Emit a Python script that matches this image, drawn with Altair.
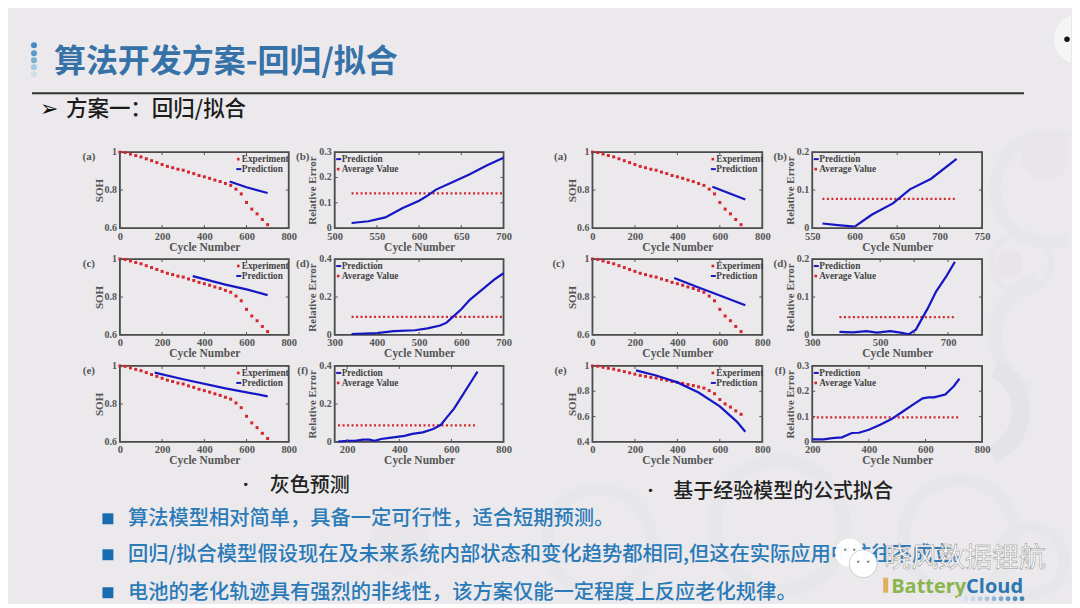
import altair as alt
import pandas as pd

BG = "#ebe9ec"
AX = "#555555"
SERIF = "Liberation Serif"
CJK = "Noto Sans CJK SC"
RED = "#d5262f"
BLUE = "#1616c4"

exp_x = [0,25,50,75,100,125,150,175,200,225,250,275,300,325,350,375,400,425,450,475,500,525,550,575,600,625,650,675,700]
exp_y = [1.0,.998,.99,.982,.975,.965,.955,.945,.935,.925,.918,.91,.905,.895,.887,.877,.87,.862,.853,.845,.835,.825,.805,.78,.735,.70,.675,.645,.618]

pa_x, pa_y = [520,600,700], [.845,.815,.785]
pc_x, pc_y = [345,500,600,700], [.91,.865,.84,.81]
pe_x, pe_y = [165,300,500,700], [.965,.93,.882,.84]
eb_x = [520,540,560,580,600,610,620,640,660,680,700]
eb_y = [.02,.027,.042,.078,.108,.128,.152,.182,.213,.247,.278]
ed_x = [340,400,440,490,520,550,565,580,600,620,650,680,700]
ed_y = [.005,.01,.02,.025,.035,.05,.065,.095,.135,.185,.24,.295,.325]
ef_x = [165,200,230,260,285,305,330,370,420,450,490,530,560,580,610,640,670,700]
ef_y = [.002,.005,.006,.012,.012,.005,.015,.022,.032,.042,.05,.068,.09,.125,.175,.24,.305,.37]

qa_x, qa_y = [565,720], [.818,.75]
qc_x, qc_y = [385,500,560,720], [.9,.85,.825,.757]
qe_x, qe_y = [205,300,400,500,600,680,720], [.965,.925,.87,.79,.68,.56,.48]
fb_x = [562,580,600,620,645,665,690,720]
fb_y = [.012,.008,.004,.035,.065,.102,.13,.182]
fd_x = [380,420,460,490,530,560,585,605,640,665,695,720]
fd_y = [.008,.007,.01,.006,.01,.006,.002,.014,.07,.115,.155,.193]
ff_x = [200,240,270,305,340,365,400,440,480,520,560,590,610,630,670,700,720]
ff_y = [.01,.01,.015,.018,.035,.036,.048,.068,.09,.12,.15,.172,.176,.176,.187,.22,.25]

X_800 = [0,200,400,600,800]
SOH_TICKS = [.6,.8,1]

TITLE = "算法开发方案-回归/拟合"
SUBTITLE = "方案一：回归/拟合"
CAP_L = "灰色预测"
CAP_R = "基于经验模型的公式拟合"
BULLETS = ["算法模型相对简单，具备一定可行性，适合短期预测。",
           "回归/拟合模型假设现在及未来系统内部状态和变化趋势都相同,但这在实际应用中往往不成立。",
           "电池的老化轨迹具有强烈的非线性，该方案仅能一定程度上反应老化规律。"]
WATERMARK = "晓风数据锂航"

ONE = pd.DataFrame({"a": [0]})
OX, OY = 9, 8  # page position of the first cell's origin


def text(t, x, y, size, color, font=CJK, weight="normal", align="left", **kw):
    return alt.Chart(pd.DataFrame({"t": [t]})).mark_text(
        font=font, fontSize=size, color=color, fontWeight=weight, align=align,
        baseline="middle", **kw
    ).encode(x=alt.value(x), y=alt.value(y), text="t:N")


def dot(x, y, size, color, shape="circle", **kw):
    return alt.Chart(ONE).mark_point(filled=True, size=size, color=color, shape=shape, opacity=kw.pop("opacity", 1), **kw).encode(
        x=alt.value(x), y=alt.value(y))


def hrule(x1, x2, y, color, w):
    return alt.Chart(ONE).mark_rule(color=color, strokeWidth=w).encode(
        x=alt.value(x1), x2=alt.value(x2), y=alt.value(y))


def arc(cx, cy, r1, r2, color, t1=0.0, t2=6.2832):
    return alt.Chart(ONE).mark_arc(theta=t1, theta2=t2, radius=r2, radius2=r1, color=color).encode(
        x=alt.value(cx - OX), y=alt.value(cy - OY))


def spacer(w=1, h=1):
    return alt.Chart(ONE).mark_rect(opacity=0).encode(
        x=alt.value(0), x2=alt.value(1), y=alt.value(0), y2=alt.value(1)).properties(width=w, height=h)


def axis_x(ticks, w, h):
    return alt.Axis(values=ticks, title="Cycle Number", grid=False, domain=False, tickSize=0, format="d",
                    labelFont=SERIF, labelFontWeight="bold", labelFontSize=10.5, labelColor=AX, labelPadding=3,
                    labelOverlap=False, labelFlush=False, titleFont=SERIF, titleFontWeight="bold",
                    titleFontSize=11.5, titleColor=AX, titleX=w / 2, titleY=19,
                    titleBaseline="middle")


def axis_y(ticks, title, h, tx):
    return alt.Axis(values=ticks, title=title, grid=False, domain=False, tickSize=0, labels=False,
                    titleFont=SERIF, titleFontWeight="bold",
                    titleFontSize=11, titleColor=AX, titleX=tx, titleY=h / 2, titleBaseline="middle")


def panel(kind, label, w, h, xdom, xticks, ydom, yticks, lx, ly, px=None, py=None, avg=None, lab_dx=-32, lab_dy=5):
    sx = alt.Scale(domain=xdom, nice=False, zero=False)
    sy = alt.Scale(domain=ydom, nice=False, zero=False)
    X = alt.X("x:Q", scale=sx, axis=axis_x(xticks, w, h))
    ytitle = "SOH" if kind == "soh" else "Relative Error"
    tx = -20 if kind == "soh" else -22
    Y = alt.Y("y:Q", scale=sy, axis=axis_y(yticks, ytitle, h, tx))
    layers = []
    pred = pd.DataFrame({"x": px, "y": py})
    if kind == "soh":
        e = pd.DataFrame({"x": exp_x, "y": exp_y})
        layers.append(alt.Chart(e).mark_point(filled=True, shape="square", size=9, color=RED, opacity=1).encode(x=X, y=Y))
        layers.append(alt.Chart(pred).mark_line(color=BLUE, strokeWidth=2.2).encode(x="x:Q", y="y:Q"))
    else:
        a = pd.DataFrame({"x": [px[0], px[-1]], "y": [avg, avg]})
        layers.append(alt.Chart(a).mark_line(color=RED, strokeWidth=2.2, strokeDash=[2, 2.5]).encode(x=X, y=Y))
        layers.append(alt.Chart(pred).mark_line(color=BLUE, strokeWidth=2.2).encode(x="x:Q", y="y:Q"))
    tx_df = pd.DataFrame({"x": xticks})
    ty_df = pd.DataFrame({"y": yticks, "s": [f"{v:g}" for v in yticks]})
    layers.append(alt.Chart(tx_df).mark_rule(color=AX, strokeWidth=1).encode(x="x:Q", y=alt.value(h - 3), y2=alt.value(h)))
    layers.append(alt.Chart(tx_df).mark_rule(color=AX, strokeWidth=1).encode(x="x:Q", y=alt.value(0), y2=alt.value(3)))
    layers.append(alt.Chart(ty_df).mark_rule(color=AX, strokeWidth=1).encode(y="y:Q", x=alt.value(0), x2=alt.value(3)))
    layers.append(alt.Chart(ty_df).mark_rule(color=AX, strokeWidth=1).encode(y="y:Q", x=alt.value(w - 3), x2=alt.value(w)))
    layers.append(alt.Chart(ty_df).mark_text(font=SERIF, fontSize=10, fontWeight="bold", color=AX, align="right",
                                             baseline="middle").encode(y="y:Q", x=alt.value(-3), text="s:N"))
    layers.append(text(label, lab_dx, lab_dy, 11, AX, font=SERIF, weight="bold", align="center"))
    names = ("Experiment", "Prediction") if kind == "soh" else ("Prediction", "Average Value")
    lc = "#444444"
    for i, n in enumerate(names):
        yy = ly + 10 * i
        layers.append(text(n, lx, yy, 9.3, lc, font=SERIF, weight="bold"))
        if n == "Prediction":
            layers.append(hrule(lx - 5.5, lx - 0.5, yy, BLUE, 2))
        else:
            layers.append(dot(lx - 3.5, yy, 7, RED, shape="square"))
    return alt.layer(*layers).properties(width=w, height=h, view=alt.ViewBackground(stroke="#4a4a4a", strokeWidth=1.8))


# ----- decoration, all drawn from the first cell
RING = "#e7e6e9"
decor = [
    arc(1050, 188, 48, 60, RING, 2.77, 6.66),
    arc(1022, 262, 27, 33, RING),
    arc(1010, 263, 0, 14, "#e9e4e7"),
    arc(1046, 155, 0, 24, "#e9e5e8"),
    arc(1055, 335, 52, 66, RING, 3.6, 6.0),
    arc(975, 410, 38, 56, "#e4e3e6", 0.45, 2.75),
    arc(600, 540, 46, 58, RING),
    arc(780, 525, 58, 72, RING),
    arc(960, 535, 50, 62, RING),
    arc(1032, 560, 28, 39, RING),
    arc(400, 545, 0, 30, "#e8e6e9"),
    dot(1080 - OX, 38 - OY, 2500, "#f5f5f6", shape="M -0.32 -0.947 A 1 1 0 0 0 -0.32 0.947 Z"),
]
for yy, c in zip([44, 52, 59, 66, 73], ["#3f8cc0", "#5a9bc9", "#7aaed4", "#a7c8e2", "#d0deea"]):
    decor.append(dot(34 - OX, yy - OY, 36, c))
decor += [
    text(TITLE, 54 - OX, 61 - OY, 32, "#3671a8", weight="bold"),
    hrule(32 - OX, 1025 - OX, 92 - OY, "#333333", 2),
    text("➢", 40 - OX, 108 - OY, 22, "#111111", font="DejaVu Sans"),
    text(SUBTITLE, 66 - OX, 109 - OY, 21.5, "#1c1c1c", weight=500),
    dot(1068 - OX, 38 - OY, 30, "#111111"),
    text("•", 246 - OX, 484 - OY, 16, "#222222", align="center"),
    text(CAP_L, 270 - OX, 485 - OY, 20, "#222222", weight=500),
    text("•", 651 - OX, 490 - OY, 16, "#222222", align="center"),
    text(CAP_R, 674 - OX, 491 - OY, 20, "#222222", weight=500),
]
for t, yy in zip(BULLETS, [518, 554, 592]):
    decor.append(dot(108 - OX, yy - OY, 120, "#1a6cb0", shape="square"))
    decor.append(text(t, 128 - OX, yy - OY, 20.3, "#2a7ab8", weight=500))
decor += [
    dot(850 - OX, 552 - OY, 780, "#ffffff", opacity=0.97),
    dot(846 - OX, 549 - OY, 6, "#7f8a92"),
    dot(855 - OX, 549 - OY, 6, "#7f8a92"),
    alt.Chart(ONE).mark_point(filled=True, size=780, color="#ffffff", stroke="#bbbbbb", strokeWidth=0.7, opacity=0.97).encode(x=alt.value(864 - OX), y=alt.value(563 - OY)),
    dot(859 - OX, 561 - OY, 6, "#7f8a92"),
    dot(869 - OX, 561 - OY, 6, "#7f8a92"),
    text(WATERMARK, 885 - OX, 558 - OY, 27, "#ffffff", stroke="#8f8f8f", strokeWidth=0.5),
    alt.Chart(ONE).mark_rect(color="#e0b060").encode(x=alt.value(884 - OX), x2=alt.value(889 - OX), y=alt.value(577 - OY), y2=alt.value(592 - OY)),
    text("Battery", 892 - OX, 586 - OY, 20, "#8ab54e", font="Open Sans", weight="bold"),
    text("Cloud", 967 - OX, 586 - OY, 20, "#2b77b0", font="Open Sans", weight="bold"),
]
for xx, c in zip([960, 967, 974, 981, 988, 995, 1002, 1009, 1016, 1023],
                 ["#e2e6ee", "#d5e0eb", "#c5d8e8", "#b6cfe3", "#a5c5de", "#90b8d7", "#7aabd0", "#639dc8", "#4f90c0", "#3f85b8"]):
    decor.append(dot(xx - OX, 598 - OY, 24, c))
decor_view = alt.layer(*decor).properties(width=1, height=1)

# ----- panels
W1, W2, W3, W4, H = 169, 169, 170, 170, 76
grid = [
    [panel("soh", "(a)", W1, H, [0, 800], X_800, [.6, 1], SOH_TICKS, 122, 7, pa_x, pa_y, lab_dx=-31),
     panel("err", "(b)", W2, H, [500, 700], [500, 550, 600, 650, 700], [0, .3], [0, .1, .2, .3], 7, 7, eb_x, eb_y, avg=.137),
     panel("soh", "(a)", W3, H, [0, 800], X_800, [.6, 1], SOH_TICKS, 124, 7, qa_x, qa_y),
     panel("err", "(b)", W4, H, [550, 750], [550, 600, 650, 700, 750], [0, .2], [0, .1, .2], 7, 7, fb_x, fb_y, avg=.077)],
    [panel("soh", "(c)", W1, H, [0, 800], X_800, [.6, 1], SOH_TICKS, 122, 7, pc_x, pc_y, lab_dx=-31),
     panel("err", "(d)", W2, H, [300, 700], [300, 400, 500, 600, 700], [0, .4], [0, .2, .4], 7, 7, ed_x, ed_y, avg=.095),
     panel("soh", "(c)", W3, H, [0, 800], X_800, [.6, 1], SOH_TICKS, 124, 7, qc_x, qc_y, lab_dx=-34),
     panel("err", "(d)", W4, H, [300, 800], [300, 400, 500, 600, 700, 800], [0, .2], [0, .1, .2], 7, 7, fd_x, fd_y, avg=.047)],
    [panel("soh", "(e)", W1, H, [0, 800], X_800, [.6, 1], SOH_TICKS, 122, 7, pe_x, pe_y, lab_dx=-31),
     panel("err", "(f)", W2, H, [152, 800], [200, 400, 600, 800], [0, .4], [0, .2, .4], 7, 7, ef_x, ef_y, avg=.087),
     panel("soh", "(e)", W3, H, [0, 800], X_800, [.4, 1], [.4, .6, .8, 1], 124, 7, qe_x, qe_y),
     panel("err", "(f)", W4, H, [200, 800], [200, 400, 600, 800], [0, .3], [0, .1, .2, .3], 7, 7, ff_x, ff_y, avg=.097)],
]

COL_GAPS = [111, 46, 89, 50]
TRAIL = 88
ROW_GAPS = [143, 31, 31]
BOTTOM = 161

cells = []
for ri in range(3):
    first = decor_view if ri == 0 else spacer(1, 1)
    cells.append(first)
    for c in range(4):
        cells.append(spacer(1, ROW_GAPS[ri]))
        cells.append(spacer(1, 1))
    for c in range(4):
        cells.append(spacer(COL_GAPS[c], 1))
        cells.append(grid[ri][c])
    cells.append(spacer(TRAIL, 1))
cells.append(spacer(1, BOTTOM))

chart = alt.concat(*cells, columns=9, spacing=0, bounds="flush", align="none").properties(
    padding=0, background=BG
).configure_view(stroke="transparent")

chart.save("out.html", embed_options={"renderer": "svg", "actions": False})
